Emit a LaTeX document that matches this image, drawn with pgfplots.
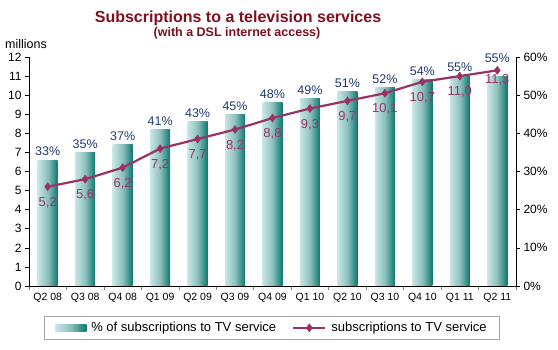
\documentclass[border=0pt]{standalone}
\usepackage{fontspec}
\setmainfont{Liberation Sans}[BoldFont={Liberation Sans Bold}]
\usepackage{pgfplots}
\usepackage{pgfplotstable}
\pgfplotsset{compat=1.18}
\definecolor{barlight}{RGB}{200,230,230}
\definecolor{barmid}{RGB}{140,192,188}
\definecolor{bardark}{RGB}{10,120,110}
\definecolor{plum}{RGB}{153,51,102}
\definecolor{titlered}{RGB}{128,16,32}
\definecolor{labblue}{RGB}{31,56,110}
\pgfplotsset{
  linelegend/.style={legend image code/.code={\draw[mark repeat=2,mark phase=2,##1] plot coordinates {(0pt,0pt) (16pt,0pt) (32pt,0pt)};}},
  barlegend/.style={legend image code/.code={\shade[left color=barlight, right color=bardark, middle color=barmid, draw=none] (0pt,-3.5pt) rectangle (31pt,3.5pt);}},
}

\pgfplotstableread{
x pct mil
0 33 5.2
1 35 5.6
2 37 6.2
3 41 7.2
4 43 7.7
5 45 8.2
6 48 8.8
7 49 9.3
8 51 9.7
9 52 10.1
10 54 10.7
11 55 11.0
12 55 11.3
}\datatable
\pgfplotstableread{
x pct mil
0 33 5.2
1 35 5.6
2 37 6.2
3 41 7.2
4 43 7.7
5 45 8.2
6 48 8.8
7 49 9.3
8 51 9.7
9 52 10.1
10 54 10.7
11 55 11.0
}\firsttable
\pgfplotstableread{
x pct mil
12 55 11.3
}\lasttable

\begin{document}
\begin{tikzpicture}[x=1pt,y=1pt]
\useasboundingbox (0,0) rectangle (558,350);
\node[font=\fontsize{16}{18}\selectfont\bfseries, text=titlered] at (238,332) {Subscriptions to a television services};
\node[font=\fontsize{12.5}{14}\selectfont\bfseries, text=titlered] at (237,317) {(with a DSL internet access)};
\node[font=\fontsize{12.5}{14}\selectfont] at (26,306) {millions};

\begin{axis}[at={(29pt,64pt)}, anchor=south west, scale only axis,
  width=487pt, height=229pt,
  xmin=-0.5, xmax=12.5, ymin=0, ymax=60,
  axis y line*=right, axis x line*=bottom,
  axis line style={black, line width=0.8pt},
  tick align=outside,
  xtick={0,...,12},
  xticklabels={Q2 08,Q3 08,Q4 08,Q1 09,Q2 09,Q3 09,Q4 09,Q1 10,Q2 10,Q3 10,Q4 10,Q1 11,Q2 11},
  major x tick style={draw=none},
  minor xtick={-0.5,0.5,...,12.5},
  minor x tick style={gray, line width=0.6pt},
  minor tick length=4pt, major tick length=4pt,
  ytick={0,10,...,60},
  yticklabel={\pgfmathprintnumber{\tick}\%},
  y tick style={black, line width=0.6pt},
  /pgf/number format/assume math mode=true,
  x tick label style={font=\fontsize{10.5}{12}\selectfont},
  y tick label style={font=\fontsize{12}{14}\selectfont},
  clip=false,
]
\pgfplotsinvokeforeach{0,...,12}{
\addplot[ybar, bar width=20pt, bar shift=0pt, draw=none, left color=barlight, right color=bardark, middle color=barmid,
  restrict expr to domain={\coordindex}{#1:#1}] table[x=x, y=pct] {\datatable};
}
\addplot[draw=none, mark=none, nodes near coords={\pgfmathprintnumber{\pgfplotspointmeta}\%}, point meta=y,
  every node near coord/.append style={text=labblue, anchor=south, yshift=0.5pt, font=\fontsize{12.5}{14}\selectfont}] table[x=x, y=pct] {\firsttable};
\addplot[draw=none, mark=none, nodes near coords={\pgfmathprintnumber{\pgfplotspointmeta}\%}, point meta=y,
  every node near coord/.append style={text=labblue, anchor=south, yshift=10pt, font=\fontsize{12.5}{14}\selectfont}] table[x=x, y=pct] {\lasttable};
\end{axis}

\begin{axis}[at={(29pt,64pt)}, anchor=south west, scale only axis,
  width=487pt, height=229pt,
  xmin=-0.5, xmax=12.5, ymin=0, ymax=12,
  axis y line*=left, axis x line=none,
  axis line style={black, line width=0.8pt},
  tick align=outside, major tick length=4pt,
  ytick={0,1,...,12},
  y tick style={black, line width=0.6pt},
  /pgf/number format/assume math mode=true,
  y tick label style={font=\fontsize{12}{14}\selectfont},
  clip=false,
  legend columns=2,
  legend style={at={(axis description cs:0.499,0)}, anchor=north, yshift=-30pt,
    draw=gray!70, line width=0.8pt, font=\fontsize{13}{15}\selectfont,
    inner xsep=11pt, inner ysep=4pt,
    /tikz/every odd column/.append style={column sep=3pt},
    /tikz/every even column/.append style={column sep=14pt}},
]
\addlegendimage{barlegend}
\addlegendentry{\% of subscriptions to TV service}
\addplot[plum, line width=2.2pt, mark=diamond*, mark size=4pt, mark options={solid, line width=0.5pt}, linelegend]
  table[x=x, y=mil] {\datatable};
\addlegendentry{subscriptions to TV service}
\addplot[draw=none, mark=none, forget plot, nodes near coords={\pgfmathprintnumber[use comma,fixed,fixed zerofill,precision=1]{\pgfplotspointmeta}}, point meta=y,
  every node near coord/.append style={text=plum, anchor=north, yshift=-7pt, font=\fontsize{13}{15}\selectfont}] table[x=x, y=mil] {\firsttable};
\addplot[draw=none, mark=none, forget plot, nodes near coords={\pgfmathprintnumber[use comma,fixed,fixed zerofill,precision=1]{\pgfplotspointmeta}}, point meta=y,
  every node near coord/.append style={text=plum, anchor=north, yshift=-1pt, font=\fontsize{13}{15}\selectfont}] table[x=x, y=mil] {\lasttable};
\end{axis}
\end{tikzpicture}
\end{document}
